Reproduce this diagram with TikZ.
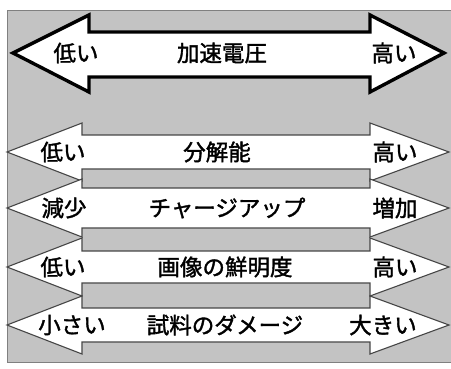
\documentclass[tikz,border=0pt]{standalone}
\usepackage{fontspec}
\newfontfamily\jp[AutoFakeBold=1.6]{Noto Sans CJK JP}
\usepackage{tikz}

\definecolor{bggray}{RGB}{195,195,195}
\definecolor{rimgray}{RGB}{70,70,70}

\begin{document}
\begin{tikzpicture}[x=1pt, y=-1pt, inner sep=0pt,
  lbl/.style={font=\jp\bfseries\fontsize{22.5}{24}\selectfont},
  bigarrow/.style={draw=black, fill=white, line width=3.4pt},
  smallarrow/.style={draw=rimgray, fill=white, line width=1.1pt}]
\useasboundingbox (0,0) rectangle (451,368);
\fill[white] (0,0) rectangle (451,368);
\draw[fill=bggray, draw=gray] (7,10) rectangle (452,362);

% accelerating voltage
\draw[bigarrow] (13,53) -- (89,15) -- (89,32) -- (370,32) -- (370,15) -- (444,53)
  -- (370,92) -- (370,77) -- (89,77) -- (89,92) -- cycle;
\node (vl) at (76,53) [lbl] {低い};
\node (vc) at (222,53) [lbl] {加速電圧};
\node (vr) at (394,53) [lbl] {高い};

% the four thin arrows
\foreach \y/\s in {152/17, 208/20, 267/16, 325/17}
  \draw[smallarrow] (7,\y) -- (82,\y-29) -- (82,\y-\s) -- (370,\y-\s) -- (370,\y-29)
    -- (449,\y) -- (370,\y+29) -- (370,\y+\s) -- (82,\y+\s) -- (82,\y+29) -- cycle;

\node (rl) at (63,152) [lbl] {低い};
\node (rc) at (217,152) [lbl] {分解能};
\node (rr) at (395,152) [lbl] {高い};

\node (cl) at (64,208) [lbl] {減少};
\node (cc) at (227,208) [lbl] {チャージアップ};
\node (cr) at (395,208) [lbl] {増加};

\node (sl) at (63,267) [lbl] {低い};
\node (sc) at (225,267) [lbl] {画像の鮮明度};
\node (sr) at (395,267) [lbl] {高い};

\node (dl) at (72,325) [lbl] {小さい};
\node (dc) at (225,325) [lbl] {試料のダメージ};
\node (dr) at (383,325) [lbl] {大きい};
\end{tikzpicture}
\end{document}
